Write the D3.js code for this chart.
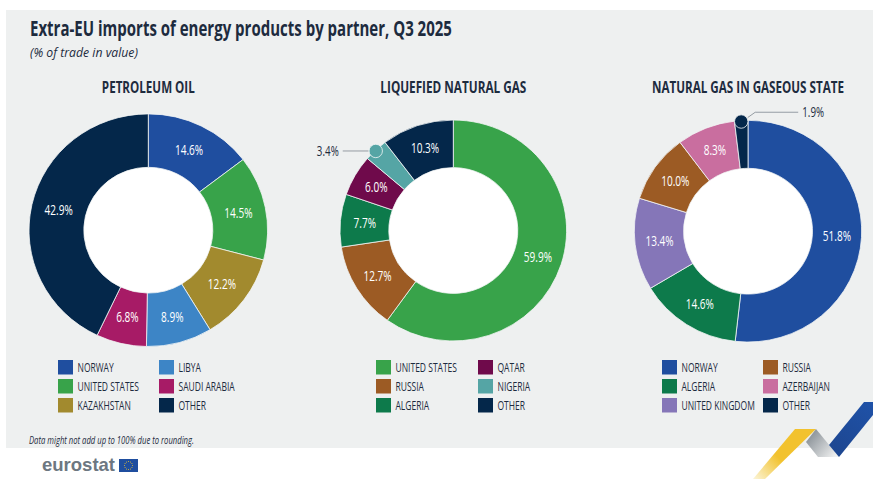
<!DOCTYPE html>
<html lang="en">
<head>
  <meta charset="UTF-8">
  <title>Extra-EU imports of energy products by partner, Q3 2025</title>
  <script src="https://d3js.org/d3.v7.min.js"></script>
  <style>
    body { margin: 0; background: #fff; }
    svg { display: block; }
    text { font-family: "Open Sans", sans-serif; fill: #1d2b3e; }
  </style>
</head>
<body>
<div id="chart"></div>
<script>
  // Values
  const oilPartners = ["NORWAY", "UNITED STATES", "KAZAKHSTAN", "LIBYA", "SAUDI ARABIA", "OTHER"];
  const oilValues = [14.6, 14.5, 12.2, 8.9, 6.8, 42.9];
  const lngPartners = ["UNITED STATES", "RUSSIA", "ALGERIA", "QATAR", "NIGERIA", "OTHER"];
  const lngValues = [59.9, 12.7, 7.7, 6.0, 3.4, 10.3];
  const gasPartners = ["NORWAY", "ALGERIA", "UNITED KINGDOM", "RUSSIA", "AZERBAIJAN", "OTHER"];
  const gasValues = [51.8, 14.6, 13.4, 10.0, 8.3, 1.9];

  const partnerColors = new Map([
    ["NORWAY", "#1f4e9f"], ["UNITED STATES", "#38a34a"], ["KAZAKHSTAN", "#a28a2e"],
    ["LIBYA", "#3d85c6"], ["SAUDI ARABIA", "#a71b66"], ["OTHER", "#04274a"],
    ["RUSSIA", "#9c5b24"], ["ALGERIA", "#0d7a4b"], ["QATAR", "#6f0a4b"],
    ["NIGERIA", "#55a5a5"], ["UNITED KINGDOM", "#8576b8"], ["AZERBAIJAN", "#c96e9f"]
  ]);

  const panels = [
    { title: "PETROLEUM OIL", partners: oilPartners, values: oilValues, cx: 148.3, cy: 230.2, r: 119.3, r0: 64.5, titleW: 93,
      legendX: [58, 159] },
    { title: "LIQUEFIED NATURAL GAS", partners: lngPartners, values: lngValues, cx: 453.3, cy: 230.5, r: 113.3, r0: 64.5, titleW: 146,
      legendX: [376, 478], callout: "NIGERIA" },
    { title: "NATURAL GAS IN GASEOUS STATE", partners: gasPartners, values: gasValues, cx: 748, cy: 231.2, r: 113.7, r0: 64.5, titleW: 192,
      legendX: [662, 763], callout: "OTHER" }
  ];

  const width = 873, height = 479;
  const narrow = 0.72; // the original face is condensed, none is installed
  const squash = 0.975; // the donuts are a little flattened in the source image
  const svg = d3.select("#chart").append("svg").attr("width", width).attr("height", height);

  // squeeze a text horizontally, either by a factor or to a target width
  function squeeze(sel, x, y, opts) {
    sel.attr("transform", function(d) {
      const px = typeof x === "function" ? x(d) : x;
      const py = typeof y === "function" ? y(d) : y;
      const f = opts.width ? opts.width / this.getComputedTextLength() : opts.factor;
      return `translate(${px},${py}) scale(${f},1)`;
    });
    return sel;
  }

  // grey background panel
  svg.append("rect").attr("x", 6).attr("y", 10).attr("width", 867).attr("height", 438).attr("fill", "#eef0f0");

  svg.append("text").attr("font-size", 21).attr("font-weight", 700)
    .text("Extra-EU imports of energy products by partner, Q3 2025")
    .call(squeeze, 30, 35.5, { width: 422 });
  svg.append("text").attr("font-size", 13).attr("font-style", "italic")
    .text("(% of trade in value)")
    .call(squeeze, 30, 57, { width: 108 });

  const pie = d3.pie().sort(null).value(d => d.value);

  panels.forEach(p => {
    const rows = p.partners.map((name, i) => ({ name, value: p.values[i] }));
    const arc = d3.arc().innerRadius(p.r0).outerRadius(p.r);
    const g = svg.append("g").attr("transform", `translate(${p.cx},${p.cy})`);
    const ring = g.append("g").attr("transform", `scale(1,${squash})`);

    svg.append("text").attr("text-anchor", "middle").attr("font-size", 16.4).attr("font-weight", 700)
      .text(p.title)
      .call(squeeze, p.cx, 92.5, { width: p.titleW });

    ring.append("circle").attr("r", p.r0).attr("fill", "#fff");
    ring.selectAll("path").data(pie(rows)).join("path")
      .attr("d", arc)
      .attr("fill", d => partnerColors.get(d.data.name))
      .attr("stroke", "#f4f6f6").attr("stroke-width", 0.8);

    // value labels, small slices get a callout instead
    g.selectAll("text.value").data(pie(rows).filter(d => d.data.name !== p.callout)).join("text")
      .attr("class", "value")
      .attr("text-anchor", "middle").attr("dy", "0.35em")
      .attr("font-size", 14).attr("font-weight", 500).style("fill", "#fff")
      .text(d => d.data.value.toFixed(1) + "%")
      .call(squeeze, d => arc.centroid(d)[0], d => arc.centroid(d)[1] * squash, { factor: narrow });

    if (p.callout) {
      const d = pie(rows).find(s => s.data.name === p.callout);
      const a = (d.startAngle + d.endAngle) / 2;
      const dot = [Math.sin(a) * p.r, -Math.cos(a) * p.r * squash + 1];
      const left = dot[0] < -20;
      const line = left
        ? [[dot[0] - 7, dot[1]], [dot[0] - 33, dot[1]]]
        : [[dot[0] + 6.5, dot[1] - 4], [dot[0] + 14, dot[1] - 9.3], [dot[0] + 57, dot[1] - 9.3]];
      g.append("path").attr("d", d3.line()(line)).attr("fill", "none").attr("stroke", "#7d868f").attr("stroke-width", 0.8);
      g.append("circle").attr("cx", dot[0]).attr("cy", dot[1]).attr("r", 6.7)
        .attr("fill", partnerColors.get(p.callout)).attr("stroke", "#f4f6f6").attr("stroke-width", 0.8);
      const end = line[line.length - 1];
      g.append("text").attr("dy", "0.35em").attr("text-anchor", left ? "end" : "start").attr("font-size", 14)
        .text(d.data.value.toFixed(1) + "%")
        .call(squeeze, end[0] + (left ? -4 : 4), end[1], { factor: 0.7 });
    }

    // legend: two columns of three
    const legend = svg.append("g").selectAll("g").data(rows).join("g")
      .attr("transform", (d, i) => `translate(${p.legendX[Math.floor(i / 3)]},${360 + (i % 3) * 19})`);
    legend.append("rect").attr("width", 15).attr("height", 14.5)
      .attr("fill", d => partnerColors.get(d.name));
    legend.append("text").attr("font-size", 13.5)
      .text(d => d.name)
      .call(squeeze, 19.5, 12, { factor: 0.63 });
  });

  svg.append("text").attr("font-size", 10.5).attr("font-style", "italic")
    .text("Data might not add up to 100% due to rounding.")
    .call(squeeze, 29, 444, { width: 165 });

  // eurostat logo
  svg.append("text").attr("x", 42).attr("y", 471)
    .style("font-family", "'Liberation Sans', sans-serif").style("fill", "#6d7781")
    .attr("font-size", 18.5).attr("font-weight", 700)
    .text("eurostat");
  svg.append("rect").attr("x", 119).attr("y", 459).attr("width", 19).attr("height", 13).attr("fill", "#1f4e9f");
  svg.append("g").selectAll("circle").data(d3.range(12)).join("circle")
    .attr("cx", i => 128.5 + 4 * Math.cos(i * Math.PI / 6))
    .attr("cy", i => 465.5 + 4 * Math.sin(i * Math.PI / 6))
    .attr("r", 0.5).attr("fill", "#f2c62e");

  // ribbon decoration, bottom right
  const defs = svg.append("defs");
  const grad = (id, x1, y1, x2, y2, stops) => {
    const g = defs.append("linearGradient").attr("id", id).attr("gradientUnits", "userSpaceOnUse")
      .attr("x1", x1).attr("y1", y1).attr("x2", x2).attr("y2", y2);
    stops.forEach(s => g.append("stop").attr("offset", s[0]).attr("stop-color", s[1]));
  };
  grad("ribYellow", 808, 432, 755, 479, [[0, "#f2c22e"], [0.55, "#f2c22e"], [1, "#fbf3d2"]]);
  grad("ribGrey", 810, 436, 835, 457, [[0, "#8f969c"], [1, "#f0f1f1"]]);
  grad("ribBlue", 873, 402, 838, 457, [[0, "#1f52a8"], [1, "#1d4690"]]);
  const ribbon = (pts, fill) => svg.append("polygon").attr("points", pts.join(" ")).attr("fill", fill);
  ribbon([[795, 429], [816, 429], [765, 479], [753, 479]], "url(#ribYellow)");
  ribbon([[816, 429], [839, 457], [818, 457], [806, 442]], "url(#ribGrey)");
  ribbon([[864, 402], [873, 402], [873, 415], [839, 457], [829, 445]], "url(#ribBlue)");
</script>
</body>
</html>
